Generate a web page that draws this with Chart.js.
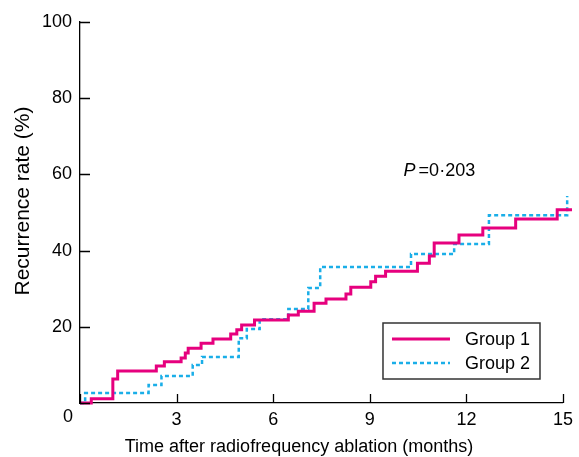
<!DOCTYPE html>
<html>
<head>
<meta charset="utf-8">
<script src="https://cdn.jsdelivr.net/npm/chart.js@4.4.1/dist/chart.umd.min.js"></script>
<style>
  body { margin: 0; background: #fff; }
  canvas { display: block; }
</style>
</head>
<body>
<canvas id="kmChart" width="579" height="457"></canvas>
<script>
const groupOneMonths = [0, 0.35, 1.02, 1.17, 2.37, 2.62, 3.14, 3.27, 3.36, 3.76, 4.13, 4.68, 4.87, 5.02, 5.42, 6.47, 6.78, 7.27, 7.64, 8.26, 8.41, 9.03, 9.18, 9.49, 10.48, 10.85, 11.0, 11.77, 12.51, 13.53, 14.82, 15.28];
const groupOneRates = [0, 1.1, 6.3, 8.4, 9.7, 10.8, 11.8, 13.1, 14.4, 15.7, 16.8, 18.1, 19.2, 20.5, 21.8, 23.1, 24.1, 26.2, 27.3, 28.6, 30.4, 31.8, 33.3, 34.6, 36.7, 38.6, 42.0, 44.1, 45.9, 48.3, 50.7, 50.7];
const groupTwoMonths = [0, 0.16, 2.13, 2.53, 3.5, 3.79, 4.93, 5.18, 5.58, 6.47, 7.09, 7.46, 10.28, 11.62, 12.7, 15.13, 15.38];
const groupTwoRates = [0, 2.6, 4.7, 7.1, 10.0, 12.1, 17.0, 19.4, 22.0, 24.7, 30.2, 35.7, 39.1, 41.7, 49.3, 54.3, 54.3];
const xTicks = [0, 3, 6, 9, 12, 15];
const yTicks = [0, 20, 40, 60, 80, 100];
const xTitle = "Time after radiofrequency ablation (months)";
const yTitle = "Recurrence rate (%)";
const pValue = "0·203";

const FONT = "'Liberation Sans', Arial, sans-serif";

function toPoints(xs, ys) {
  return xs.map((x, i) => ({ x: x, y: ys[i] }));
}

// ticks pointing into the plot, the shared "0" at the corner, axis titles
const axisExtras = {
  id: "axisExtras",
  afterDraw(chart) {
    const { ctx, chartArea, scales } = chart;
    ctx.save();
    ctx.strokeStyle = "#000";
    ctx.lineWidth = 1.3;
    ctx.beginPath();
    yTicks.forEach((v) => {
      const y = Math.round(scales.y.getPixelForValue(v)) + 0.5;
      ctx.moveTo(chartArea.left, y);
      ctx.lineTo(chartArea.left + 10, y);
    });
    xTicks.forEach((v) => {
      const x = Math.round(scales.x.getPixelForValue(v)) + 0.5;
      ctx.moveTo(x, chartArea.bottom);
      ctx.lineTo(x, chartArea.bottom - 9);
    });
    ctx.stroke();
    ctx.fillStyle = "#000";
    ctx.font = "18px " + FONT;
    ctx.textAlign = "center";
    ctx.textBaseline = "middle";
    ctx.fillText("0", chartArea.left - 12, chartArea.bottom + 14);

    // titles sit a little off-centre in the original figure
    ctx.fillText(xTitle, chartArea.left + 219, chartArea.bottom + 44);
    ctx.translate(23, chartArea.top + 179);
    ctx.rotate(-Math.PI / 2);
    ctx.font = "21px " + FONT;
    ctx.fillText(yTitle, 0, 0);
    ctx.restore();
  },
};

const legendBox = {
  id: "legendBox",
  afterDraw(chart) {
    const { ctx, chartArea } = chart;
    const w = 157, h = 56;
    const left = chartArea.right - 23 - w;
    const top = chartArea.bottom - 24 - h;
    ctx.save();
    ctx.strokeStyle = "#333";
    ctx.lineWidth = 1.5;
    ctx.strokeRect(left, top, w, h);
    ctx.font = "18px " + FONT;
    ctx.textBaseline = "middle";
    ctx.fillStyle = "#000";
    chart.data.datasets.forEach((ds, i) => {
      const y = top + 16 + i * 24;
      ctx.beginPath();
      ctx.strokeStyle = ds.borderColor;
      ctx.lineWidth = ds.borderWidth;
      ctx.setLineDash(ds.borderDash || []);
      ctx.moveTo(left + 9, y);
      ctx.lineTo(left + 67, y);
      ctx.stroke();
      ctx.setLineDash([]);
      ctx.fillText(ds.label, left + 82, y + 1);
    });
    ctx.restore();
  },
};

const pLabel = {
  id: "pLabel",
  afterDraw(chart) {
    const { ctx, scales } = chart;
    const x = scales.x.getPixelForValue(10.05);
    const y = scales.y.getPixelForValue(61);
    ctx.save();
    ctx.fillStyle = "#000";
    ctx.textBaseline = "middle";
    ctx.font = "italic 18px " + FONT;
    ctx.fillText("P", x, y);
    const pw = ctx.measureText("P").width;
    ctx.font = "18px " + FONT;
    ctx.fillText("=" + pValue, x + pw + 3, y);
    ctx.restore();
  },
};

new Chart(document.getElementById("kmChart").getContext("2d"), {
  type: "line",
  data: {
    datasets: [
      {
        label: "Group 1",
        data: toPoints(groupOneMonths, groupOneRates),
        borderColor: "#e6007e",
        borderWidth: 3,
        stepped: true,
        pointRadius: 0,
        fill: false,
        clip: false,
      },
      {
        label: "Group 2",
        data: toPoints(groupTwoMonths, groupTwoRates),
        borderColor: "#1aaee8",
        borderWidth: 2.5,
        borderDash: [4, 3],
        stepped: true,
        pointRadius: 0,
        fill: false,
        clip: false,
      },
    ],
  },
  options: {
    responsive: false,
    animation: false,
    layout: { padding: { top: 22, right: 13, left: 0, bottom: 0 } },
    plugins: {
      legend: { display: false },
      tooltip: { enabled: false },
    },
    scales: {
      x: {
        type: "linear",
        min: 0,
        max: 15,
        afterBuildTicks: (scale) => {
          scale.ticks = xTicks.map((v) => ({ value: v }));
        },
        afterFit: (scale) => {
          scale.height = 54;
        },
        grid: { display: false, drawTicks: false, tickLength: 0 },
        border: { display: true, color: "#000", width: 1.3 },
        ticks: {
          color: "#000",
          padding: 6,
          maxRotation: 0,
          font: { family: FONT, size: 18 },
          callback: (v) => (v === 0 ? "" : v),
        },
        title: { display: false, text: xTitle },
      },
      y: {
        min: 0,
        max: 100,
        afterBuildTicks: (scale) => {
          scale.ticks = yTicks.map((v) => ({ value: v }));
        },
        afterFit: (scale) => {
          scale.width = 80;
        },
        grid: { display: false, drawTicks: false, tickLength: 0 },
        border: { display: true, color: "#000", width: 1.3 },
        ticks: {
          color: "#000",
          padding: 8,
          font: { family: FONT, size: 18 },
          callback: (v) => (v === 0 ? "" : v),
        },
        title: { display: false, text: yTitle },
      },
    },
  },
  plugins: [axisExtras, legendBox, pLabel],
});
</script>
</body>
</html>
